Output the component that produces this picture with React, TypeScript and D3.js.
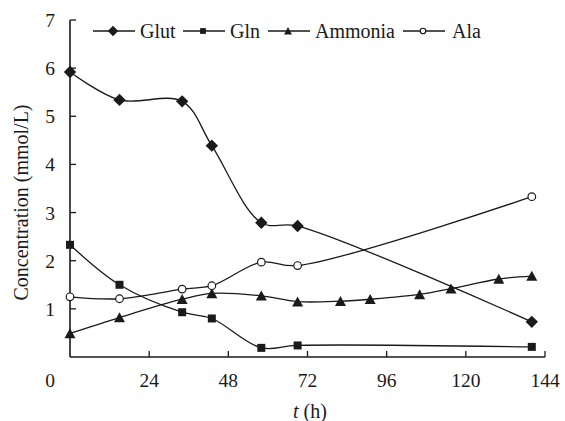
import React from "react";
import * as d3 from "d3";

// ---- data ----
const timesMain = [0, 15, 34, 43, 58, 69, 140];
const glut = [5.92, 5.34, 5.31, 4.39, 2.79, 2.72, 0.73];
const gln = [2.33, 1.5, 0.93, 0.8, 0.19, 0.24, 0.21];
const ala = [1.25, 1.21, 1.41, 1.48, 1.97, 1.9, 3.33];
const timesAmmonia = [0, 15, 34, 43, 58, 69, 82, 91, 106, 115.5, 130, 140];
const ammonia = [0.49, 0.82, 1.2, 1.32, 1.27, 1.15, 1.16, 1.2, 1.3, 1.42, 1.62, 1.68];

const xTicks = [0, 24, 48, 72, 96, 120, 144];
const yTicks = [1, 2, 3, 4, 5, 6, 7];
const seriesNames = ["Glut", "Gln", "Ammonia", "Ala"];
const seriesMarkers = ["diamond", "square", "triangle", "circle"];

const W = 565;
const H = 421;
const FONT = "Liberation Serif, Tinos, Times New Roman, DejaVu Serif, serif";
const INK = "#1a1a1a";

const x = d3.scaleLinear().domain([0, 144]).range([70, 545]);
const y = d3.scaleLinear().domain([0, 7]).range([357, 20]);

function Marker({ kind, cx, cy, scale = 1 }: { kind: string; cx: number; cy: number; scale?: number }) {
  if (kind === "diamond") {
    const r = 6.2 * scale;
    return <path d={`M${cx},${cy - r}L${cx + r},${cy}L${cx},${cy + r}L${cx - r},${cy}Z`} fill={INK} />;
  }
  if (kind === "square") {
    const s = 8 * scale;
    return <rect x={cx - s / 2} y={cy - s / 2} width={s} height={s} fill={INK} />;
  }
  if (kind === "triangle") {
    const w = 11 * scale;
    const h = 9.5 * scale;
    return <path d={`M${cx},${cy - h / 2 - 0.5}L${cx + w / 2},${cy + h / 2}L${cx - w / 2},${cy + h / 2}Z`} fill={INK} />;
  }
  return <circle cx={cx} cy={cy} r={3.8 * scale} fill="#fff" stroke={INK} strokeWidth={1.2} />;
}

export default function App() {
  const line = d3
    .line<[number, number]>()
    .x((d) => x(d[0]))
    .y((d) => y(d[1]))
    .curve(d3.curveCatmullRom.alpha(0.5));

  const series = [
    { name: seriesNames[0], kind: seriesMarkers[0], t: timesMain, v: glut },
    { name: seriesNames[1], kind: seriesMarkers[1], t: timesMain, v: gln },
    { name: seriesNames[2], kind: seriesMarkers[2], t: timesAmmonia, v: ammonia },
    { name: seriesNames[3], kind: seriesMarkers[3], t: timesMain, v: ala },
  ];

  const legendStarts = [93, 183, 268, 403];
  const legendY = 31;
  const textStyle = { fontFamily: FONT };

  return (
    <svg width={W} height={H} style={{ display: "block", position: "absolute", left: 0, top: 0, background: "#fff" }}>
      <rect width={W} height={H} fill="#fff" />

      {/* axes */}
      <line x1={x(0)} x2={x(144)} y1={y(0)} y2={y(0)} stroke={INK} strokeWidth={1.6} />
      <line x1={x(0)} x2={x(0)} y1={y(0)} y2={y(7)} stroke={INK} strokeWidth={1.6} />
      {xTicks.map((t) => (
        <g key={"xt" + t}>
          {t > 0 && <line x1={x(t)} x2={x(t)} y1={y(0)} y2={y(0) - 6} stroke={INK} strokeWidth={1.3} />}
          <text
            x={t === 0 ? x(t) - 20 : x(t)}
            y={387}
            textAnchor="middle"
            style={textStyle}
            fontSize={19.5}
            fill={INK}
          >
            {t}
          </text>
        </g>
      ))}
      {yTicks.map((v) => (
        <g key={"yt" + v}>
          <line x1={x(0)} x2={x(0) + 6} y1={y(v)} y2={y(v)} stroke={INK} strokeWidth={1.3} />
          <text x={55} y={y(v) + 7} textAnchor="end" style={textStyle} fontSize={19.5} fill={INK}>
            {v}
          </text>
        </g>
      ))}
      <text x={310} y={418} textAnchor="middle" style={textStyle} fontSize={20} fill={INK}>
        <tspan fontStyle="italic">t</tspan> (h)
      </text>
      <text
        transform={`translate(28,${(102 + 303) / 2}) rotate(-90)`}
        textAnchor="middle"
        style={textStyle}
        fontSize={20}
        fill={INK}
      >
        Concentration (mmol/L)
      </text>

      {/* series */}
      {series.map((s) => {
        const pts: [number, number][] = s.t.map((t, i) => [t, s.v[i]]);
        return (
          <g key={s.name}>
            <path d={line(pts) || ""} fill="none" stroke={INK} strokeWidth={1.3} />
          </g>
        );
      })}
      {series.map((s) => (
        <g key={s.name + "m"}>
          {s.t.map((t, i) => (
            <Marker key={i} kind={s.kind} cx={x(t)} cy={y(s.v[i])} />
          ))}
        </g>
      ))}

      {/* legend */}
      {series.map((s, i) => {
        const x0 = legendStarts[i];
        return (
          <g key={s.name + "lg"}>
            <line x1={x0} x2={x0 + 42} y1={legendY} y2={legendY} stroke={INK} strokeWidth={1.3} />
            <Marker kind={s.kind} cx={x0 + 20} cy={legendY} scale={s.kind === "diamond" ? 0.85 : 0.72} />
            <text x={x0 + (i === 3 ? 49 : 47)} y={legendY + 7} style={textStyle} fontSize={20} fill={INK}>
              {s.name}
            </text>
          </g>
        );
      })}
    </svg>
  );
}
